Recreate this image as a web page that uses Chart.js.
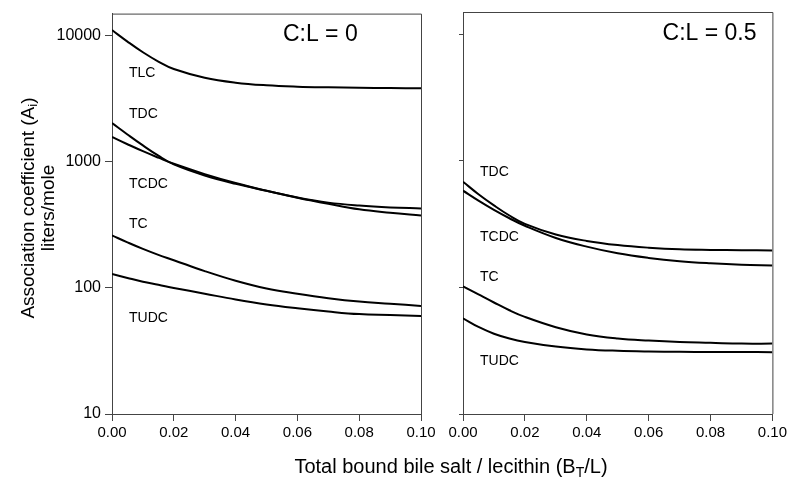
<!DOCTYPE html>
<html>
<head>
<meta charset="utf-8">
<script src="https://cdn.jsdelivr.net/npm/chart.js@4.4.0/dist/chart.umd.min.js"></script>
<style>
  body { margin: 0; background: #fff; }
  #wrap { position: relative; width: 790px; height: 489px; font-family: "Liberation Sans", Arial, sans-serif; color: #000; overflow: hidden; }
  #leftBox { position: absolute; left: 0; top: 0; width: 442px; height: 489px; }
  #rightBox { position: absolute; left: 442px; top: 0; width: 348px; height: 489px; }
  #yTitle { position: absolute; left: -112px; top: 188px; width: 300px; height: 40px; transform: rotate(-90deg);
            text-align: center; font-size: 19px; line-height: 20px; }
  #xTitle { position: absolute; left: 151px; top: 455px; width: 600px; text-align: center; font-size: 20px; line-height: 22px; }
  sub { font-size: 70%; line-height: 0; vertical-align: -0.25em; }
</style>
</head>
<body>
<div id="wrap">
  <div id="leftBox"><canvas id="leftChart" width="442" height="489"></canvas></div>
  <div id="rightBox"><canvas id="rightChart" width="348" height="489"></canvas></div>
  <div id="yTitle">Association coefficient (A<sub>i</sub>)<br>liters/mole</div>
  <div id="xTitle">Total bound bile salt / lecithin (B<sub>T</sub>/L)</div>
</div>
<script>
// Data
var xValues = [0, 0.005, 0.01, 0.015, 0.02, 0.03, 0.04, 0.05, 0.06, 0.07, 0.08, 0.09, 0.10];
var xTicks = [0, 0.02, 0.04, 0.06, 0.08, 0.10];
var yTicks = [10, 100, 1000, 10000];

var panelTitles = ["C:L = 0", "C:L = 0.5"];
var leftNames = ["TLC", "TDC", "TCDC", "TC", "TUDC"];
var rightNames = ["TDC", "TCDC", "TC", "TUDC"];

// C:L = 0
var tlcLeft  = [11100, 9000, 7400, 6250, 5450, 4650, 4250, 4050, 3950, 3900, 3870, 3850, 3830];
var tdcLeft  = [2030, 1650, 1350, 1120, 955, 780, 670, 590, 522, 475, 450, 435, 427];
var tcdcLeft = [1575, 1380, 1215, 1080, 965, 800, 680, 590, 520, 465, 420, 395, 376];
var tcLeft   = [261, 230, 204, 183, 166, 136, 114, 99, 90, 83, 78, 75, 72];
var tudcLeft = [129, 120, 112, 106, 100, 90, 81, 74, 69, 65, 62, 61, 60];

// C:L = 0.5
var tdcRight  = [684, 545, 445, 370, 318, 262, 233, 216, 206, 200, 198, 197, 196];
var tcdcRight = [581, 485, 410, 352, 307, 246, 210, 186, 171, 161, 155, 151, 149];
var tcRight   = [102, 88, 76, 66, 58.5, 48.5, 42.5, 39.5, 38, 37, 36.5, 36, 36];
var tudcRight = [57, 48.7, 43.1, 39.5, 37.1, 34.1, 32.4, 31.6, 31.2, 31, 30.9, 30.85, 30.8];

var FONT = '"Liberation Sans", Arial, sans-serif';

// draws top/right frame and the text labels
var panelDecor = {
    id: "panelDecor",
    afterDraw: function (chart, args, opts) {
        var ctx = chart.ctx;
        var a = chart.chartArea;
        ctx.save();
        ctx.strokeStyle = "#444";
        ctx.lineWidth = 1;
        ctx.beginPath();
        ctx.moveTo(a.left, a.top + 0.5);
        ctx.lineTo(a.right + 0.5, a.top + 0.5);
        ctx.lineTo(a.right + 0.5, a.bottom);
        ctx.stroke();

        ctx.fillStyle = "#000";
        ctx.textBaseline = "middle";
        ctx.textAlign = "left";
        (opts.labels || []).forEach(function (lb) {
            ctx.font = lb.size + "px " + FONT;
            var px = chart.scales.x.getPixelForValue(lb.x);
            var py = chart.scales.y.getPixelForValue(lb.y);
            ctx.fillText(lb.text, px, py);
        });
        ctx.restore();
    }
};

function makeSet(arr) {
    return {
        data: xValues.map(function (x, i) { return { x: x, y: arr[i] }; }),
        borderColor: "#000",
        borderWidth: 2,
        pointRadius: 0,
        fill: false,
        tension: 0.4
    };
}

function makePanel(id, seriesList, yWidth, padRight, showYLabels, labels) {
    var canvas = document.getElementById(id);
    if (!canvas) {
        console.error("canvas not found: " + id);
        return null;
    }
    return new Chart(canvas.getContext("2d"), {
        type: "line",
        data: { datasets: seriesList.map(makeSet) },
        options: {
            responsive: false,
            animation: false,
            devicePixelRatio: 1,
            layout: { padding: { top: 12, right: padRight, bottom: 0, left: 0 } },
            plugins: {
                legend: { display: false },
                tooltip: { enabled: false },
                panelDecor: { labels: labels }
            },
            scales: {
                x: {
                    type: "linear",
                    min: 0,
                    max: 0.1,
                    afterBuildTicks: function (scale) {
                        scale.ticks = xTicks.map(function (v) { return { value: v }; });
                    },
                    afterFit: function (scale) { scale.height = 75; },
                    ticks: {
                        color: "#000",
                        font: { family: FONT, size: 15 },
                        padding: 3,
                        maxRotation: 0,
                        callback: function (v) { return Number(v).toFixed(2); }
                    },
                    grid: { drawOnChartArea: false, drawTicks: true, tickLength: 7, color: "#444" },
                    border: { display: true, color: "#444", width: 1 }
                },
                y: {
                    type: "logarithmic",
                    min: 10,
                    max: 15000,
                    afterBuildTicks: function (scale) {
                        scale.ticks = yTicks.map(function (v) { return { value: v }; });
                    },
                    afterFit: function (scale) { scale.width = yWidth; },
                    ticks: {
                        display: showYLabels,
                        color: "#000",
                        font: { family: FONT, size: 16 },
                        padding: 4,
                        callback: function (v) { return String(v); }
                    },
                    grid: { drawOnChartArea: false, drawTicks: true, tickLength: showYLabels ? 7 : 4, color: "#444" },
                    border: { display: true, color: "#444", width: 1 }
                }
            }
        },
        plugins: [panelDecor]
    });
}

var leftLabels = [
    { text: panelTitles[0], x: 0.0553, y: 10200, size: 23 },
    { text: leftNames[0], x: 0.0055, y: 5020, size: 14 },
    { text: leftNames[1], x: 0.0055, y: 2390, size: 14 },
    { text: leftNames[2], x: 0.0055, y: 671, size: 14 },
    { text: leftNames[3], x: 0.0055, y: 319, size: 14 },
    { text: leftNames[4], x: 0.0055, y: 58, size: 14 }
];
var rightLabels = [
    { text: panelTitles[1], x: 0.0645, y: 10200, size: 23 },
    { text: rightNames[0], x: 0.0055, y: 819, size: 14 },
    { text: rightNames[1], x: 0.0055, y: 248, size: 14 },
    { text: rightNames[2], x: 0.0055, y: 120, size: 14 },
    { text: rightNames[3], x: 0.0055, y: 26.1, size: 14 }
];

makePanel("leftChart", [tlcLeft, tdcLeft, tcdcLeft, tcLeft, tudcLeft], 112, 21, true, leftLabels);
makePanel("rightChart", [tdcRight, tcdcRight, tcRight, tudcRight], 21, 17, false, rightLabels);
</script>
</body>
</html>
